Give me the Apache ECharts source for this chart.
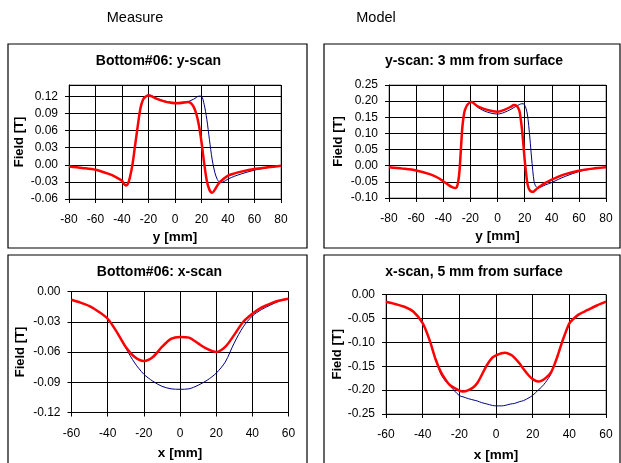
<!DOCTYPE html>
<html>
<head>
<meta charset="utf-8">
<script src="https://cdn.jsdelivr.net/npm/echarts@6/dist/echarts.min.js"></script>
<style>
  html, body { margin: 0; padding: 0; background: #fff; }
  #chart { width: 621px; height: 463px; }
</style>
</head>
<body>
<div id="chart"></div>
<script>
// Column headings and panel titles
const columnHeads = ['Measure', 'Model'];
const panelTitles = ['Bottom#06: y-scan', 'y-scan: 3 mm from surface', 'Bottom#06: x-scan', 'x-scan, 5 mm from surface'];
const xTitles = ['y [mm]', 'y [mm]', 'x [mm]', 'x [mm]'];
const yTitle = 'Field [T]';

// Measured y-scan (Bottom#06), field in tesla
const measYPos = [-80, -70, -60, -50, -45, -40, -38.5, -37, -35.5, -34, -32, -30, -28, -26, -24, -22, -20, -18, -15, -10, -5, 0, 5, 10, 12, 14, 16, 18, 20, 22, 24, 26, 28, 30, 32, 34, 36, 40, 45, 50, 60, 70, 80];
const measYBlue = [-0.003, -0.0055, -0.0087, -0.016, -0.021, -0.028, -0.0335, -0.0365, -0.033, -0.022, 0.002, 0.036, 0.07, 0.1, 0.115, 0.121, 0.1225, 0.122, 0.118, 0.1135, 0.1105, 0.1095, 0.1098, 0.111, 0.113, 0.115, 0.118, 0.1205, 0.12, 0.106, 0.08, 0.044, 0.01, -0.013, -0.026, -0.031, -0.0305, -0.025, -0.02, -0.016, -0.0093, -0.005, -0.002];
const measYRed  = [-0.003, -0.0055, -0.0087, -0.016, -0.021, -0.028, -0.0335, -0.0365, -0.033, -0.022, 0.002, 0.036, 0.07, 0.1, 0.115, 0.12, 0.1215, 0.1205, 0.117, 0.1125, 0.1095, 0.108, 0.1085, 0.11, 0.108, 0.102, 0.09, 0.07, 0.04, 0.003, -0.028, -0.044, -0.049, -0.044, -0.036, -0.03, -0.026, -0.019, -0.015, -0.012, -0.0075, -0.0045, -0.0017];

// Model y-scan, 3 mm from surface
const modelYPos = [-80, -70, -60, -50, -45, -40, -36, -33, -31, -30, -29, -28, -27, -26, -25, -24, -22, -20, -19, -18, -15, -10, -5, 0, 5, 10, 12, 14, 16, 17, 18, 19, 20, 21, 22, 23, 24, 25, 26, 27, 28, 29, 30, 32, 35, 40, 45, 50, 60, 70, 80];
const modelYBlue = [-0.005, -0.009, -0.0146, -0.026, -0.035, -0.048, -0.06, -0.067, -0.069, -0.066, -0.05, -0.015, 0.05, 0.115, 0.152, 0.173, 0.19, 0.196, 0.197, 0.195, 0.182, 0.17, 0.163, 0.16, 0.165, 0.175, 0.18, 0.185, 0.189, 0.191, 0.192, 0.192, 0.188, 0.178, 0.16, 0.125, 0.08, 0.03, -0.015, -0.05, -0.062, -0.067, -0.069, -0.066, -0.06, -0.052, -0.042, -0.033, -0.018, -0.01, -0.005];
const modelYRed  = [-0.005, -0.009, -0.0146, -0.026, -0.035, -0.048, -0.06, -0.067, -0.069, -0.066, -0.05, -0.015, 0.05, 0.115, 0.152, 0.173, 0.19, 0.196, 0.197, 0.195, 0.185, 0.176, 0.17, 0.167, 0.173, 0.183, 0.188, 0.186, 0.172, 0.148, 0.115, 0.07, 0.02, -0.02, -0.054, -0.07, -0.077, -0.08, -0.081, -0.079, -0.075, -0.071, -0.068, -0.062, -0.054, -0.043, -0.034, -0.026, -0.0155, -0.009, -0.005];

// Measured x-scan (Bottom#06)
const measXPos = [-60, -55, -50, -45, -40, -35, -30, -25, -20, -15, -10, -5, 0, 5, 10, 15, 20, 25, 30, 35, 40, 45, 50, 55, 60];
const measXBlue = [-0.0082, -0.011, -0.0145, -0.02, -0.027, -0.04, -0.056, -0.071, -0.082, -0.089, -0.094, -0.0965, -0.097, -0.0965, -0.093, -0.088, -0.081, -0.07, -0.051, -0.035, -0.0244, -0.018, -0.0135, -0.0095, -0.0075];
const measXRed  = [-0.0082, -0.011, -0.0145, -0.02, -0.027, -0.04, -0.055, -0.065, -0.069, -0.065, -0.055, -0.047, -0.045, -0.0457, -0.0515, -0.057, -0.06, -0.055, -0.043, -0.03, -0.022, -0.016, -0.012, -0.009, -0.0072];

// Model x-scan, 5 mm from surface
const modelXPos = [-60, -55, -50, -45, -40, -36, -33, -30, -27, -25, -20, -18, -15, -12, -10, -8, -5, -2, 0, 3, 5, 8, 10, 13, 15, 18, 20, 23, 25, 27, 30, 33, 36, 40, 42, 45, 50, 55, 60];
const modelXBlue = [-0.0152, -0.02, -0.0256, -0.036, -0.06, -0.1, -0.136, -0.167, -0.184, -0.192, -0.2115, -0.214, -0.218, -0.221, -0.223, -0.226, -0.229, -0.232, -0.233, -0.233, -0.232, -0.229, -0.228, -0.224, -0.222, -0.216, -0.211, -0.2, -0.193, -0.184, -0.166, -0.135, -0.1, -0.063, -0.052, -0.042, -0.032, -0.023, -0.015];
const modelXRed  = [-0.0152, -0.02, -0.0256, -0.036, -0.06, -0.098, -0.135, -0.163, -0.181, -0.19, -0.201, -0.203, -0.2, -0.193, -0.184, -0.17, -0.148, -0.132, -0.1275, -0.123, -0.122, -0.126, -0.132, -0.145, -0.156, -0.17, -0.177, -0.182, -0.18, -0.175, -0.163, -0.135, -0.1, -0.06, -0.052, -0.042, -0.0324, -0.023, -0.015];

// Axis ranges: [min, max, interval]
const xRanges = [[-80, 80, 20], [-80, 80, 20], [-60, 60, 20], [-60, 60, 20]];
const yRanges = [[-0.06, 0.14, 0.03], [-0.10, 0.25, 0.05], [-0.12, 0, 0.03], [-0.25, 0, 0.05]];

const panels = [
  { x: measYPos, blue: measYBlue, red: measYRed },
  { x: modelYPos, blue: modelYBlue, red: modelYRed },
  { x: measXPos, blue: measXBlue, red: measXRed },
  { x: modelXPos, blue: modelXBlue, red: modelXRed }
];

const FONT = 'Liberation Sans, Arial, Helvetica, sans-serif';

// Plot rectangles and the frames around each chart
const grids = [
  { left: 69, top: 85, width: 212, height: 114 },
  { left: 389, top: 85, width: 217, height: 113 },
  { left: 71.5, top: 291.5, width: 217, height: 121 },
  { left: 386, top: 294.5, width: 220, height: 121 }
];
const frames = [
  { x: 8, y: 44, w: 299, h: 204 },
  { x: 324, y: 44, w: 296, h: 204 },
  { x: 8, y: 255, w: 299, h: 210 },
  { x: 324, y: 255, w: 296, h: 210 }
];
const titleCenters = [[158.5, 61], [474, 61], [159.5, 272.5], [474, 272.5]];

function fmt(v) {
  if (Math.abs(v) < 1e-9) v = 0;
  return v.toFixed(2);
}

const chart = echarts.init(document.getElementById('chart'), null, { renderer: 'canvas' });

const option = {
  animation: false,
  backgroundColor: '#fff',
  grid: grids.map(g => ({
    left: g.left, top: g.top, width: g.width, height: g.height,
    show: true, backgroundColor: '#fff', borderColor: '#808080', borderWidth: 1,
    containLabel: false
  })),
  xAxis: xRanges.map((r, i) => ({
    type: 'value', gridIndex: i, min: r[0], max: r[1], interval: r[2],
    name: xTitles[i], nameLocation: 'middle', nameGap: i < 2 ? 31 : 34,
    nameTextStyle: { fontFamily: FONT, fontSize: 13.5, fontWeight: 'bold', color: '#000' },
    axisLine: { show: true, onZero: false, lineStyle: { color: '#000', width: 1 } },
    axisTick: { show: true, length: 4, lineStyle: { color: '#000' } },
    axisLabel: { fontFamily: FONT, fontSize: 12, color: '#000', margin: 15 },
    splitLine: { show: true, lineStyle: { color: '#000', width: 1 } }
  })),
  yAxis: yRanges.map((r, i) => ({
    type: 'value', gridIndex: i, min: r[0], max: r[1], interval: r[2],
    name: yTitle, nameLocation: 'middle', nameRotate: 90,
    nameGap: [43, 44, 45, 42][i],
    nameTextStyle: { fontFamily: FONT, fontSize: 13, fontWeight: 'bold', color: '#000' },
    axisLine: { show: true, onZero: false, lineStyle: { color: '#000', width: 1 } },
    axisTick: { show: true, length: 4, lineStyle: { color: '#000' } },
    axisLabel: { fontFamily: FONT, fontSize: 12, color: '#000', margin: 11, showMaxLabel: i !== 0, formatter: fmt },
    splitLine: { show: true, lineStyle: { color: '#000', width: 1 } }
  })),
  series: panels.flatMap((p, i) => [
    {
      type: 'line', xAxisIndex: i, yAxisIndex: i, showSymbol: false, smooth: 0.3,
      lineStyle: { color: '#000080', width: 1 }, z: 3,
      data: p.x.map((x, k) => [x, p.blue[k]])
    },
    {
      type: 'line', xAxisIndex: i, yAxisIndex: i, showSymbol: false, smooth: 0.3,
      lineStyle: { color: '#ff0000', width: 2.5 }, z: 4,
      data: p.x.map((x, k) => [x, p.red[k]])
    }
  ]),
  graphic: [
    ...frames.map(f => ({
      type: 'rect', z: -1, silent: true,
      shape: { x: f.x, y: f.y, width: f.w, height: f.h },
      style: { fill: 'none', stroke: '#000', lineWidth: 1.2 }
    })),
    ...panelTitles.map((t, i) => ({
      type: 'text', x: titleCenters[i][0], y: titleCenters[i][1],
      style: { text: t, fontFamily: FONT, fontSize: 14, fontWeight: 'bold', fill: '#000', textAlign: 'center', textVerticalAlign: 'middle' }
    })),
    ...columnHeads.map((t, i) => ({
      type: 'text', x: [135, 376][i], y: 18,
      style: { text: t, fontFamily: FONT, fontSize: 14.5, fill: '#000', textAlign: 'center', textVerticalAlign: 'middle' }
    }))
  ]
};

chart.setOption(option);
</script>
</body>
</html>
